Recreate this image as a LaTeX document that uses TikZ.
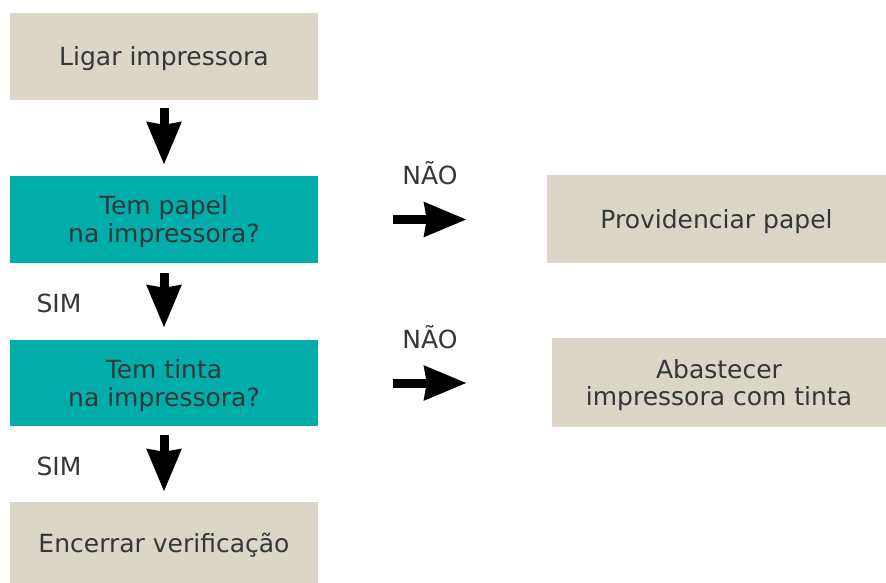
\documentclass[tikz,border=0pt]{standalone}
\usepackage{fontspec}
\setmainfont{DejaVu Sans}
\usepackage{tikz}
\usetikzlibrary{calc,arrows.meta}
\definecolor{bege}{HTML}{DCD6C8}
\definecolor{verdeagua}{HTML}{00ADA8}
\definecolor{texto}{HTML}{33363B}
\tikzstyle{begebox}=[rectangle,fill=bege,text=texto,align=center,inner sep=0pt,
                     minimum width=308pt,minimum height=87pt,text depth=0pt,
                     font=\fontsize{25}{28}\selectfont]
\tikzstyle{tealbox}=[begebox,fill=verdeagua]
\tikzstyle{seta}=[line width=9pt,-{Stealth[length=42pt,width=33pt,inset=2pt]}]
\tikzstyle{rotulo}=[text=texto,inner sep=0pt,anchor=base,font=\fontsize{25}{28}\selectfont]
\newcommand\colesq{164}

\begin{document}
\begin{tikzpicture}[x=1pt,y=-1pt]
    \useasboundingbox (0,0) rectangle (886,583);
	% coluna da esquerda
	\node [begebox] (Ligar) at ($(\colesq,56.5)$) {Ligar impressora};
	\node [tealbox] (Papel) at ($(\colesq,219.5)$) {Tem papel\\na impressora?};
	\node [tealbox,minimum height=86pt] (Tinta) at ($(\colesq,383)$) {Tem tinta\\na impressora?};
	\node [begebox,minimum height=81pt] (Encerrar) at ($(\colesq,542.5)$) {Encerrar verificação};
	% coluna da direita
	\node [begebox,minimum width=339pt,minimum height=88pt] (Providenciar) at ($(716.5,219)$) {Providenciar papel};
	\node [begebox,minimum width=334pt,minimum height=89pt] (Abastecer) at ($(719,382.5)$) {Abastecer\\impressora com tinta};
	% respostas
	\node [rotulo] (Sim1) at ($(59,312)$) {SIM};
	\node [rotulo] (Sim2) at ($(59,475)$) {SIM};
	\node [rotulo] (Nao1) at ($(430,184)$) {NÃO};
	\node [rotulo] (Nao2) at ($(430,348)$) {NÃO};
	% setas
	\draw [seta,shorten <=8pt,shorten >=11pt] (Ligar) -- (Papel);
	\draw [seta,shorten <=10pt,shorten >=12pt] (Papel) -- (Tinta);
	\draw [seta,shorten <=9pt,shorten >=10pt] (Tinta) -- (Encerrar);
	\draw [seta,shorten <=75pt,shorten >=80pt] (Papel) -- (Papel-|Providenciar.west);
	\draw [seta,shorten <=75pt,shorten >=85pt] (Tinta) -- (Tinta-|Abastecer.west);
\end{tikzpicture}
\end{document}
